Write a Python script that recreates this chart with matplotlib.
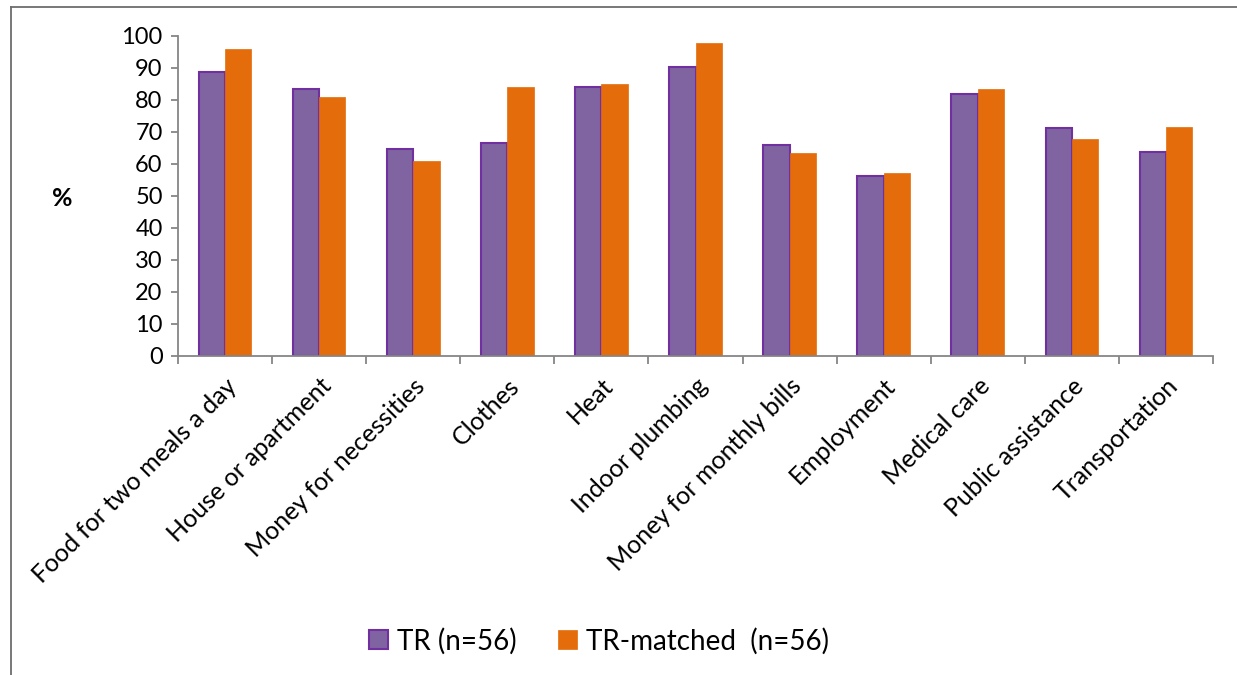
import numpy as np
import matplotlib.pyplot as plt
from matplotlib.lines import Line2D

plt.rcParams['font.family'] = ['Lato', 'DejaVu Sans']

categories = ["Food for two meals a day", "House or apartment", "Money for necessities",
              "Clothes", "Heat", "Indoor plumbing", "Money for monthly bills",
              "Employment", "Medical care", "Public assistance", "Transportation"]
tr = [88.6, 83.4, 64.7, 66.5, 84.1, 90.4, 66.0, 56.4, 81.8, 71.1, 63.9]
tr_matched = [95.8, 81.0, 60.8, 84.1, 84.9, 97.8, 63.5, 57.3, 83.5, 67.7, 71.6]
yticks = np.arange(0, 101, 10)

purple = "#8064A2"
purple_edge = "#7030A0"
orange = "#E46C0A"
axis_grey = "#868686"

fig = plt.figure(figsize=(12.37, 6.75), dpi=100)
ax = fig.add_axes([0.1439, 0.4726, 0.8367, 0.4741])

x = np.arange(len(categories))
w = 0.28
ax.bar(x - w / 2, tr, w, color=purple, edgecolor=purple_edge, linewidth=1.5,
       label="TR (n=56)")
ax.bar(x + w / 2, tr_matched, w, color=orange, edgecolor=orange, linewidth=0.5,
       label="TR-matched  (n=56)")

ax.set_xlim(-0.5, len(categories) - 0.5)
ax.set_ylim(0, 100)
ax.set_yticks(yticks)
ax.tick_params(axis='y', labelsize=17, length=5, width=1.3, color=axis_grey, pad=6)

ax.set_xticks(x)
ax.set_xticklabels(categories, rotation=45, ha='right', rotation_mode='anchor', fontsize=18)
ax.set_xticks(np.arange(-0.5, len(categories)), minor=True)
ax.tick_params(axis='x', which='major', length=0, pad=13)
ax.tick_params(axis='x', which='minor', length=6, width=1.3, color=axis_grey)

for side in ['top', 'right']:
    ax.spines[side].set_visible(False)
for side in ['left', 'bottom']:
    ax.spines[side].set_color(axis_grey)
    ax.spines[side].set_linewidth(1.3)

fig.text(62 / 1237, 1 - 198 / 675, "%", fontsize=18, fontweight='bold',
         ha='center', va='center')

fig.legend(loc='center', bbox_to_anchor=(0.484, 1 - 641 / 675), ncol=2, frameon=False,
           fontsize=20, handlelength=0.7, handleheight=0.7, handletextpad=0.3,
           columnspacing=1.5)

# outer frame, cut off at the right and bottom of the image
fig.add_artist(Line2D([11 / 1237, 11 / 1237], [0, 1 - 6.5 / 675], transform=fig.transFigure,
                      color="#6d6d6d", linewidth=1.3))
fig.add_artist(Line2D([11 / 1237, 1], [1 - 6.5 / 675, 1 - 6.5 / 675], transform=fig.transFigure,
                      color="#6d6d6d", linewidth=1.3))

plt.savefig("out.png", dpi=100)
